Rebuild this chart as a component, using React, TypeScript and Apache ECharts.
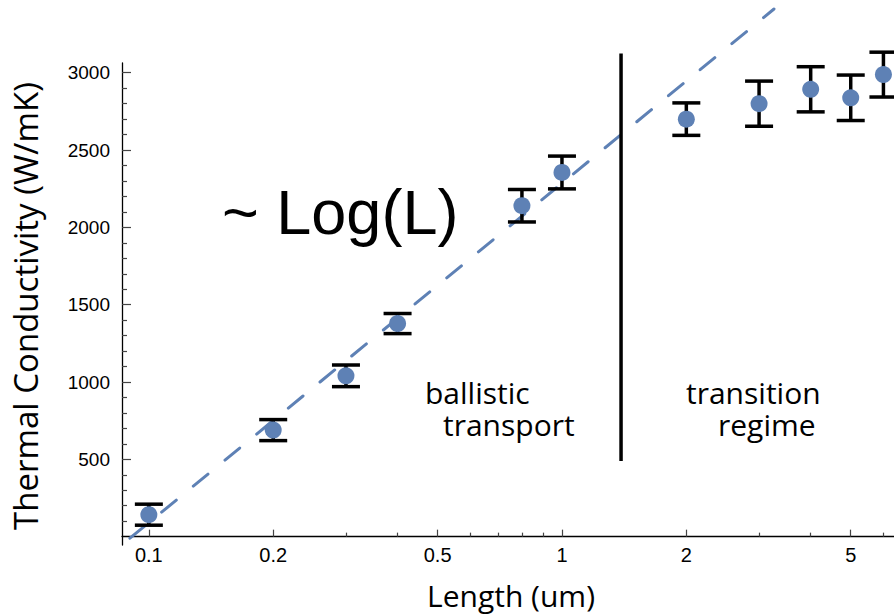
import React, { useEffect, useRef } from "react";
import * as echarts from "echarts";

// Measured thermal conductivity versus sample length
const lengths = [0.1, 0.2, 0.3, 0.4, 0.8, 1, 2, 3, 4, 5, 6];
const conductivity = [142, 689, 1040, 1378, 2140, 2355, 2700, 2800, 2893, 2838, 2988];
const errors = [68, 68, 70, 65, 105, 106, 105, 146, 146, 147, 145];

// Logarithmic fit through the ballistic points (two end points of the line)
const fitLine = [
  [0.09, -10],
  [3.26, 3412],
];

// Boundary between ballistic transport and transition regime
const boundaryLine = [
  [1.39, 489],
  [1.39, 3125],
];

const xMajorTicks = [0.1, 0.2, 0.5, 1, 2, 5];
const xMinorTicks = [0.3, 0.4, 0.6, 0.7, 0.8, 0.9, 3, 4, 6];
const yMajorTicks = [500, 1000, 1500, 2000, 2500, 3000];
const yMinorTicks = [
  100, 200, 300, 400, 600, 700, 800, 900, 1100, 1200, 1300, 1400, 1600, 1700, 1800, 1900,
  2100, 2200, 2300, 2400, 2600, 2700, 2800, 2900,
];

const BLUE = "#5E81B5";
const X_MIN = 0.0861;
const X_MAX = 6.364;
const Y_MIN = -54;
const Y_MAX = 3063;

const labelFont = '30px "Open Sans"';

export default function App() {
  const ref = useRef<HTMLDivElement>(null);

  useEffect(() => {
    if (!ref.current) return;
    const chart = echarts.init(ref.current, null, { renderer: "svg" });

    const baseX = {
      type: "log" as const,
      min: X_MIN,
      max: X_MAX,
      logBase: 10,
      position: "bottom" as const,
      splitLine: { show: false },
      minorTick: { show: false },
    };
    const baseY = {
      type: "value" as const,
      min: Y_MIN,
      max: Y_MAX,
      position: "left" as const,
      splitLine: { show: false },
    };

    chart.setOption({
      animation: false,
      backgroundColor: "#fff",
      grid: { left: 122, top: 63, right: 0, bottom: 71, containLabel: false },
      xAxis: [
        {
          ...baseX,
          axisLine: { show: true, onZero: true, lineStyle: { color: "#000", width: 1.3 } },
          axisTick: {
            show: true,
            inside: true,
            length: 7,
            customValues: xMajorTicks,
            lineStyle: { color: "#444", width: 1.2 },
          },
          axisLabel: {
            show: true,
            margin: 0,
            customValues: xMajorTicks,
            formatter: (v: number) => String(+v.toPrecision(3)),
            fontFamily: "Liberation Sans",
            fontSize: 20,
            color: "#000",
          },
        },
        {
          ...baseX,
          axisLine: { show: false, onZero: true },
          axisTick: {
            show: true,
            inside: true,
            length: 4,
            customValues: xMinorTicks,
            lineStyle: { color: "#444", width: 1.2 },
          },
          axisLabel: { show: false },
        },
      ],
      yAxis: [
        {
          ...baseY,
          axisLine: { show: true, lineStyle: { color: "#000", width: 1.3 } },
          axisTick: {
            show: true,
            inside: true,
            length: 9,
            customValues: yMajorTicks,
            lineStyle: { color: "#444", width: 1.2 },
          },
          axisLabel: {
            show: true,
            margin: 12,
            customValues: yMajorTicks,
            formatter: (v: number) => String(Math.round(v)),
            fontFamily: "Liberation Sans",
            fontSize: 19,
            color: "#000",
          },
        },
        {
          ...baseY,
          axisLine: { show: false },
          axisTick: {
            show: true,
            inside: true,
            length: 5,
            customValues: yMinorTicks,
            lineStyle: { color: "#444", width: 1.2 },
          },
          axisLabel: { show: false },
        },
      ],
      series: [
        {
          type: "line",
          name: "fit",
          data: fitLine,
          xAxisIndex: 0,
          yAxisIndex: 0,
          clip: false,
          showSymbol: false,
          symbol: "none",
          silent: true,
          z: 2,
          lineStyle: { color: BLUE, width: 3, type: [19, 22], cap: "round" },
        },
        {
          type: "line",
          name: "boundary",
          data: boundaryLine,
          xAxisIndex: 0,
          yAxisIndex: 0,
          clip: false,
          showSymbol: false,
          symbol: "none",
          silent: true,
          z: 2,
          lineStyle: { color: "#000", width: 3.5, type: "solid" },
        },
        {
          type: "custom",
          name: "error",
          xAxisIndex: 0,
          yAxisIndex: 0,
          clip: false,
          z: 3,
          data: lengths.map((l, i) => [l, conductivity[i], errors[i]]),
          encode: { x: 0, y: 1 },
          renderItem: (_params: any, api: any) => {
            const x = api.value(0);
            const y = api.value(1);
            const e = api.value(2);
            const top = api.coord([x, y + e]);
            const bot = api.coord([x, y - e]);
            const hw = 14;
            const style = { stroke: "#000", lineWidth: 3.5 };
            return {
              type: "group",
              children: [
                { type: "line", shape: { x1: top[0], y1: top[1], x2: bot[0], y2: bot[1] }, style },
                { type: "line", shape: { x1: top[0] - hw, y1: top[1], x2: top[0] + hw, y2: top[1] }, style },
                { type: "line", shape: { x1: bot[0] - hw, y1: bot[1], x2: bot[0] + hw, y2: bot[1] }, style },
              ],
            };
          },
        },
        {
          type: "scatter",
          name: "data",
          xAxisIndex: 0,
          yAxisIndex: 0,
          clip: false,
          z: 4,
          symbol: "circle",
          symbolSize: 17,
          itemStyle: { color: BLUE, opacity: 1 },
          data: lengths.map((l, i) => [l, conductivity[i]]),
        },
      ],
      graphic: [
        {
          type: "text",
          left: 222,
          top: 180,
          style: { text: "~ Log(L)", font: '63px "Liberation Sans"', fill: "#000" },
        },
        {
          type: "text",
          left: 425,
          top: 377,
          style: {
            text: "{a|ballistic}\n{b|transport}",
            fill: "#000",
            rich: {
              a: { font: labelFont, lineHeight: 32 },
              b: { font: labelFont, lineHeight: 32, padding: [0, 0, 0, 18] },
            },
          },
        },
        {
          type: "text",
          left: 686,
          top: 377,
          style: {
            text: "{a|transition}\n{b|regime}",
            fill: "#000",
            rich: {
              a: { font: labelFont, lineHeight: 32 },
              b: { font: labelFont, lineHeight: 32, padding: [0, 0, 0, 32] },
            },
          },
        },
        {
          type: "text",
          x: 25,
          y: 306,
          rotation: Math.PI / 2,
          style: {
            text: "Thermal Conductivity (W/mK)",
            font: '33px "Open Sans"',
            fill: "#000",
            align: "center",
            verticalAlign: "middle",
          },
        },
        {
          type: "text",
          x: 511,
          y: 595,
          style: {
            text: "Length (um)",
            font: '30px "Open Sans"',
            lineHeight: 30,
            fill: "#000",
            align: "center",
            verticalAlign: "middle",
          },
        },
      ],
    });

    return () => chart.dispose();
  }, []);

  return (
    <div
      ref={ref}
      style={{ position: "fixed", left: 0, top: 0, width: 894, height: 616, background: "#fff" }}
    />
  );
}
